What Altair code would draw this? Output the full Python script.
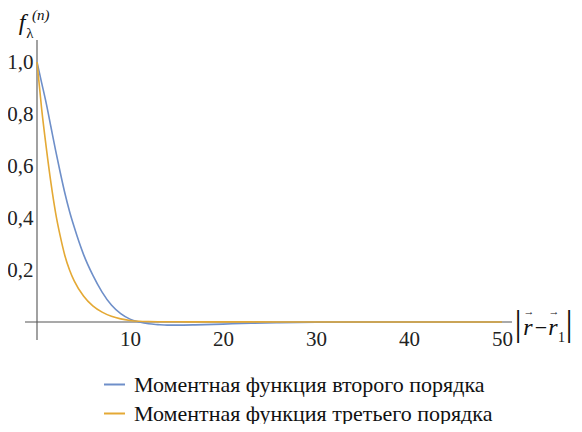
import altair as alt
import pandas as pd

# ---- data ----
x_vals = [0, 0.5, 1, 1.5, 2, 2.5, 3, 3.5, 4, 5, 6, 7, 8, 9, 10, 11, 12, 13, 14, 15,
          17, 20, 23, 26, 30, 35, 40, 50]
second_order = [1.0, 0.92, 0.84, 0.75, 0.66, 0.575, 0.495, 0.425, 0.365, 0.26, 0.18, 0.115,
                0.065, 0.032, 0.011, 0.0, -0.007, -0.010, -0.012, -0.012,
                -0.011, -0.008, -0.005, -0.003, -0.001, 0.0, 0.0, 0.0]
third_order = [1.0, 0.82, 0.67, 0.535, 0.42, 0.33, 0.255, 0.2, 0.158, 0.1, 0.062, 0.038,
               0.022, 0.012, 0.006, 0.003, 0.0018, 0.0012, 0.001, 0.0008,
               0.0006, 0.0004, 0.0003, 0.0002, 0.0001, 0.0, 0.0, 0.0]
series_names = ["Моментная функция второго порядка", "Моментная функция третьего порядка"]
series_colors = ["#6E8FC9", "#E4A935"]
x_ticks = [10, 20, 30, 40, 50]
y_ticks = [0.2, 0.4, 0.6, 0.8, 1.0]

rows = []
for s_name, vals in zip(series_names, [second_order, third_order]):
    for xv, yv in zip(x_vals, vals):
        rows.append({"x": xv, "y": yv, "series": s_name})
df = pd.DataFrame(rows)

W, H = 465, 260
FONT = "Liberation Serif"

xscale = alt.Scale(domain=[0, 50], nice=False, zero=False)
yscale = alt.Scale(domain=[0, 1], nice=False, zero=False)

lines = alt.Chart(df).mark_line(strokeWidth=1.6, interpolate="monotone").encode(
    x=alt.X("x:Q", scale=xscale,
            axis=alt.Axis(values=x_ticks, title=None, domain=False, ticks=False, grid=False,
                          labelFont=FONT, labelFontSize=21, labelColor="#222",
                          labelPadding=6, labelFlush=False)),
    y=alt.Y("y:Q", scale=yscale,
            axis=alt.Axis(values=y_ticks, title=None, domain=False, ticks=False, grid=False,
                          labelFont=FONT, labelFontSize=21, labelColor="#222",
                          labelPadding=4, labelFlush=False,
                          labelExpr="replace(format(datum.value, '.1f'), '.', ',')")),
    color=alt.Color("series:N",
                    scale=alt.Scale(domain=series_names, range=series_colors),
                    legend=alt.Legend(orient="none", legendX=66, legendY=311, title=None,
                                      symbolType="stroke", symbolSize=441,
                                      symbolStrokeWidth=2, labelFont=FONT,
                                      labelFontSize=22, labelColor="#111",
                                      labelOffset=8, rowPadding=6, labelLimit=600)),
)

# axis lines through zero
axis_df = pd.DataFrame({"v": [0]})
yaxis_line = alt.Chart(axis_df).mark_rule(color="#555", strokeWidth=1.1).encode(
    x=alt.X("v:Q", scale=xscale), y=alt.value(-22), y2=alt.value(278))
xaxis_line = alt.Chart(axis_df).mark_rule(color="#555", strokeWidth=1.1).encode(
    y=alt.Y("v:Q", scale=yscale), x=alt.value(-12), x2=alt.value(475))

def txt(t, x, y, size, style="normal", align="center", baseline="alphabetic"):
    return alt.Chart(pd.DataFrame({"t": [t]})).mark_text(
        font=FONT, fontSize=size, fontStyle=style, align=align, baseline=baseline,
        color="#111").encode(text="t:N", x=alt.value(x), y=alt.value(y))

y_title = [
    txt("f", -15, -32, 24, "italic"),
    txt("λ", -7, -24, 15),
    txt("(n)", -5, -42, 15, "italic", align="left"),
]
x_title = [
    txt("|", 481, 273, 36),
    txt("r", 491, 273, 24, "italic"),
    txt("→", 492, 253, 11),
    txt("−", 504, 273, 22),
    txt("r", 516, 273, 24, "italic"),
    txt("→", 517, 253, 11),
    txt("1", 521, 280, 14, align="left"),
    txt("|", 532, 273, 36),
]

chart = alt.layer(xaxis_line, yaxis_line, lines, *y_title, *x_title).properties(
    width=W, height=H,
    autosize=alt.AutoSizeParams(type="none"),
    padding={"left": 29, "top": 54, "right": 72, "bottom": 102},
).configure_view(stroke=None).configure_axis(labelFont=FONT)

chart.save("out.html", embed_options={"renderer": "svg", "actions": False})
